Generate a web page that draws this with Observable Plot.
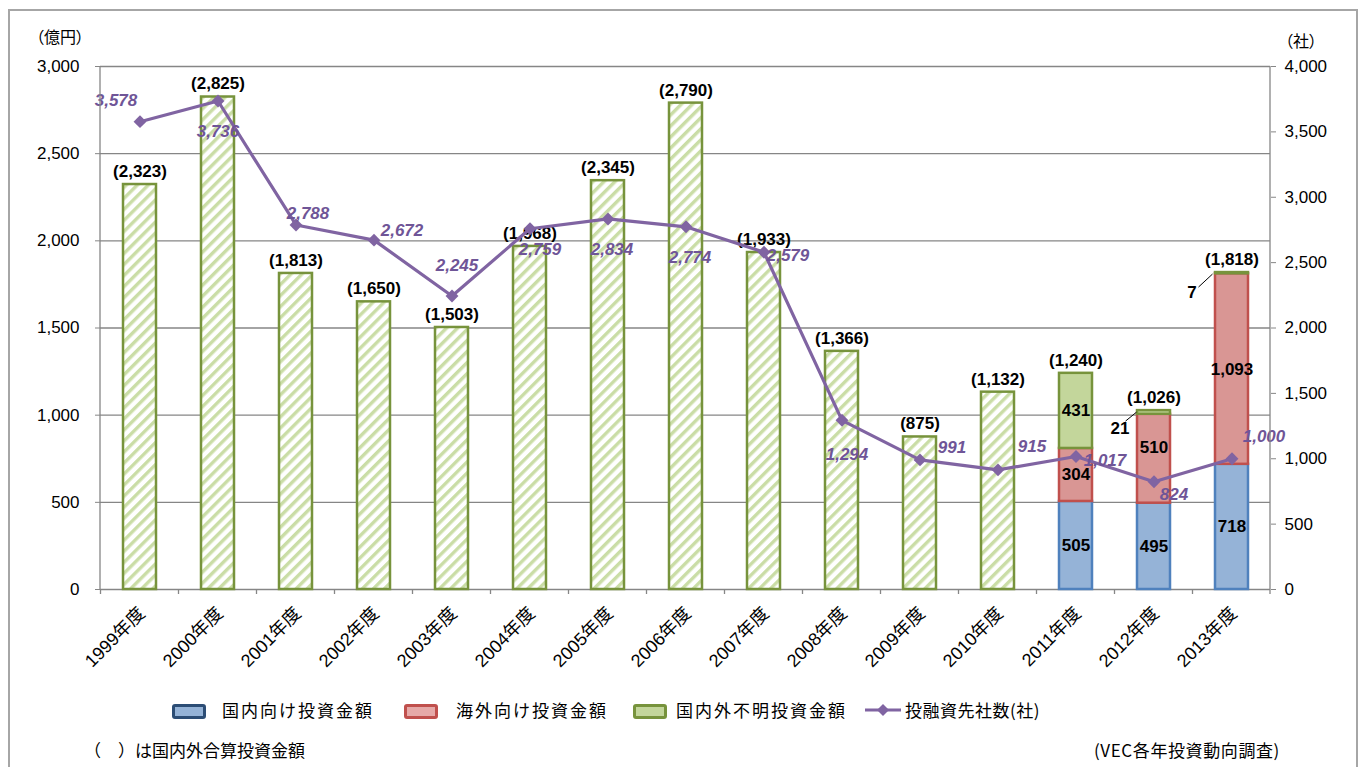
<!DOCTYPE html>
<html><head><meta charset="utf-8">
<script src="https://cdn.jsdelivr.net/npm/d3@7"></script>
<script src="https://cdn.jsdelivr.net/npm/@observablehq/plot@0.6"></script>
<style>
body{margin:0;background:#fff;font-family:"Liberation Sans","Noto Sans CJK JP",sans-serif;color:#000;}
#chart{position:absolute;left:0;top:0;}
#frame{position:absolute;left:8px;top:9px;width:1350px;height:900px;border:2px solid #a6a6a6;box-sizing:border-box;pointer-events:none;}
.abs{position:absolute;white-space:nowrap;}
.unit{font-family:"Noto Sans CJK JP",sans-serif;font-size:16px;font-feature-settings:"palt";line-height:1;}
.lg{font-family:"Noto Sans CJK JP",sans-serif;font-size:17px;letter-spacing:2px;line-height:1;}
.sw{position:absolute;width:28px;height:9px;border-radius:3px;}
.note{font-family:"Noto Sans CJK JP",sans-serif;font-size:17px;line-height:1;}
</style></head><body>
<div id="chart"></div>
<div id="overlay"></div>
<div id="frame"></div>
<script>
// ---- data ----
const years = ["1999年度","2000年度","2001年度","2002年度","2003年度","2004年度","2005年度","2006年度","2007年度","2008年度","2009年度","2010年度","2011年度","2012年度","2013年度"];
const totalAmount = [2323,2825,1813,1650,1503,1968,2345,2790,1933,1366,875,1132,1240,1026,1818];
const domesticAmount = [null,null,null,null,null,null,null,null,null,null,null,null,505,495,718];
const overseasAmount = [null,null,null,null,null,null,null,null,null,null,null,null,304,510,1093];
const unknownAmount  = [null,null,null,null,null,null,null,null,null,null,null,null,431,21,7];
const companyCount = [3578,3736,2788,2672,2245,2759,2834,2774,2579,1294,991,915,1017,824,1000];
const leftTicks = [0,500,1000,1500,2000,2500,3000];
const rightTicks = [0,500,1000,1500,2000,2500,3000,3500,4000];
const seriesNames = ["国内向け投資金額","海外向け投資金額","国内外不明投資金額","投融資先社数(社)"];

// ---- label placement (pixel offsets) ----
const companyLabelOffset = [[-24,-21],[0,31],[12,-11],[28,-10],[5,-30],[10,21],[4,31],[4,31],[24,3],[5,34],[32,-12],[34,-23],[29,4],[20,13],[32,-22]];
const segLabelDy = {"2012年度|overseas":-11};

// ---- styles ----
const colors = {
  domestic:{fill:"#95b3d7",stroke:"#4f81bd"},
  overseas:{fill:"#d99694",stroke:"#c0504d"},
  unknown:{fill:"#c3d69b",stroke:"#77933c"},
  line:"#8064a2", lineText:"#6f5597", grid:"#868686"
};
const fmt = d3.format(",");
const rightRatio = 3000/4000;
const fontFam = '"Liberation Sans","Noto Sans CJK JP",sans-serif';

// ---- derived tables ----
const hatchRows = years.map((y,i)=>({year:y,total:totalAmount[i]})).filter((d,i)=>domesticAmount[i]==null);
const segRows = [];
years.forEach((y,i)=>{
  if (domesticAmount[i]==null) return;
  const d = domesticAmount[i], o = overseasAmount[i], u = unknownAmount[i];
  segRows.push({year:y,key:"domestic",value:d,y1:0,y2:d});
  segRows.push({year:y,key:"overseas",value:o,y1:d,y2:d+o});
  segRows.push({year:y,key:"unknown",value:u,y1:d+o,y2:d+o+u});
});
const totalRows = years.map((y,i)=>({year:y,total:totalAmount[i]}));
const lineRows = years.map((y,i)=>({year:y,count:companyCount[i],off:companyLabelOffset[i]}));
const innerLabels = segRows.filter(d=>d.value>=100);
const calloutLabels = segRows.filter(d=>d.value<100);

const marks = [
  Plot.ruleY(leftTicks,{stroke:colors.grid,strokeWidth:1.3}),
  Plot.barY(hatchRows,{x:"year",y1:0,y2:"total",fill:"url(#hatch)",stroke:colors.unknown.stroke,strokeWidth:2.5}),
  Plot.barY(segRows,{x:"year",y1:"y1",y2:"y2",fill:d=>colors[d.key].fill,stroke:d=>colors[d.key].stroke,strokeWidth:2.5}),
  Plot.axisY({ticks:leftTicks,tickFormat:fmt,tickSize:5,tickPadding:16,fontSize:17,stroke:colors.grid,label:null,fontFamily:fontFam}),
  Plot.axisY({anchor:"right",ticks:rightTicks.map(v=>v*rightRatio),tickFormat:d=>fmt(Math.round(d/rightRatio)),tickSize:5,tickPadding:9,fontSize:17,stroke:colors.grid,label:null,fontFamily:fontFam}),
  Plot.axisX({tickRotate:-45,tickSize:0,tickPadding:21,dx:2,fontSize:18,label:null,fontFamily:fontFam}),
  Plot.text(totalRows,{x:"year",y:"total",text:d=>`(${fmt(d.total)})`,dy:-13,fontSize:17,fontWeight:"bold",fill:"#000",fontFamily:fontFam}),
  ...innerLabels.map(d=>Plot.text([d],{x:"year",y:dd=>(dd.y1+dd.y2)/2,text:dd=>fmt(dd.value),dy:segLabelDy[d.year+"|"+d.key]||0,fontSize:17,fontWeight:"bold",fill:"#000",fontFamily:fontFam})),
  Plot.line(lineRows,{x:"year",y:d=>d.count*rightRatio,stroke:colors.line,strokeWidth:3.2}),
  Plot.dot(lineRows,{x:"year",y:d=>d.count*rightRatio,symbol:"diamond2",r:5.8,fill:colors.line,stroke:"none"}),
  ...lineRows.map(d=>Plot.text([d],{x:"year",y:dd=>dd.count*rightRatio,text:dd=>fmt(dd.count),dx:d.off[0],dy:d.off[1],fontSize:17,fontWeight:"bold",fontStyle:"italic",fill:colors.lineText,fontFamily:fontFam})),
  ...calloutLabels.map(d=>Plot.text([d],{x:"year",y:"y2",text:dd=>fmt(dd.value),dx:d.value===21?-34:-40,dy:d.value===21?18:20,fontSize:17,fontWeight:"bold",fill:"#000",fontFamily:fontFam}))
];

const plot = Plot.plot({
  width:1363,height:680,
  marginTop:66,marginBottom:91,marginLeft:100,marginRight:93,
  x:{domain:years,paddingInner:0.58,paddingOuter:0.29},
  y:{domain:[0,3000]},
  color:{type:"identity"},
  style:{fontFamily:fontFam,fontSize:"17px",color:"#000",background:"transparent"},
  marks
});
document.getElementById("chart").appendChild(plot);

// pattern + structural lines through the plot's scales
const svg = d3.select(plot);
const defs = svg.insert("defs",":first-child");
const pat = defs.append("pattern").attr("id","hatch").attr("patternUnits","userSpaceOnUse")
  .attr("width",7.8).attr("height",7.8).attr("patternTransform","rotate(45)");
pat.append("rect").attr("width",7.8).attr("height",7.8).attr("fill","#fff");
pat.append("rect").attr("width",3.4).attr("height",7.8).attr("fill","#cadda6");

const xs = plot.scale("x"), ys = plot.scale("y");
const y0 = ys.apply(0), yTop = ys.apply(3000);
const g = svg.append("g").attr("stroke",colors.grid).attr("stroke-width",1.3);
const [xl, xr] = xs.range;
g.append("line").attr("x1",xl).attr("x2",xl).attr("y1",y0).attr("y2",yTop);
g.append("line").attr("x1",xr).attr("x2",xr).attr("y1",y0).attr("y2",yTop);
years.forEach((y,i)=>{
  const bx = xs.apply(y) - (xs.step - xs.bandwidth)/2;
  g.append("line").attr("x1",bx).attr("x2",bx).attr("y1",y0).attr("y2",y0+5);
});
g.append("line").attr("x1",xr).attr("x2",xr).attr("y1",y0).attr("y2",y0+5);
// callout leader lines
const lg = svg.append("g").attr("stroke","#000").attr("stroke-width",1);
calloutLabels.forEach(d=>{
  const cx = xs.apply(d.year) + xs.bandwidth/2, cy = ys.apply(d.y2);
  const a = d.value===21 ? [[-28,11],[-17,2]] : [[-33,15],[-19,2]];
  lg.append("line").attr("x1",cx+a[0][0]).attr("y1",cy+a[0][1]).attr("x2",cx+a[1][0]).attr("y2",cy+a[1][1]);
});

// ---- HTML text: units, legend, notes ----
const ov = document.getElementById("overlay");
function add(html, cls, left, top){const e=document.createElement("div");e.className="abs "+cls;e.style.left=left+"px";e.style.top=top+"px";e.innerHTML=html;ov.appendChild(e);return e;}
add("（億円）","unit",36,28);
add("（社）","unit",1285,32);
function swatch(left, c){const e=document.createElement("div");e.className="sw";e.style.left=left+"px";e.style.top="704px";e.style.background=c.fill;e.style.border="3px solid "+c.stroke;ov.appendChild(e);}
swatch(172,{fill:"#95b3d7",stroke:"#2c4d75"});
add(seriesNames[0],"lg",222,701);
swatch(404,{fill:"#e6a9a8",stroke:"#c0504d"});
add(seriesNames[1],"lg",456,701);
swatch(633,{fill:"#c3d69b",stroke:"#77933c"});
add(seriesNames[2],"lg",676,701);
const ls = document.createElementNS("http://www.w3.org/2000/svg","svg");
ls.setAttribute("width","40");ls.setAttribute("height","20");
ls.style.position="absolute";ls.style.left="863px";ls.style.top="700px";
ls.innerHTML=`<line x1="2" y1="10" x2="38" y2="10" stroke="${colors.line}" stroke-width="3"/><path d="M20 4 L26 10 L20 16 L14 10Z" fill="${colors.line}"/>`;
ov.appendChild(ls);
add(seriesNames[3],"lg",905,701).style.letterSpacing="0.5px";
add("（　）は国内外合算投資金額","note",84,741);
add("(VEC各年投資動向調査)","note",1094,741).style.letterSpacing="0.6px";
</script>
</body></html>
